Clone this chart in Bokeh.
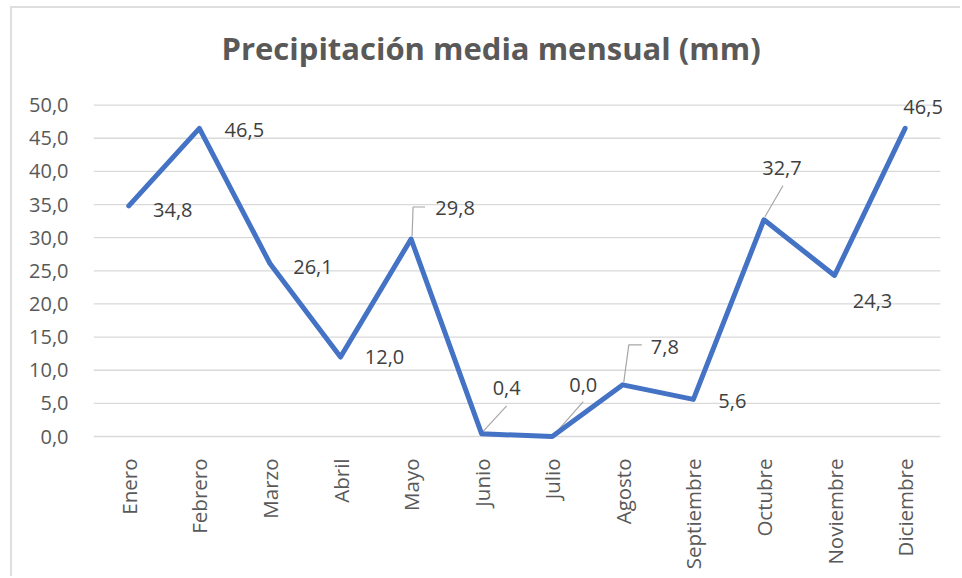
from bokeh.plotting import figure
from bokeh.models import ColumnDataSource, FixedTicker, Range1d, Title
from bokeh.core.properties import value
from bokeh.embed import file_html
from bokeh.resources import INLINE
from math import pi

# ---- data ----
months = ["Enero", "Febrero", "Marzo", "Abril", "Mayo", "Junio", "Julio",
          "Agosto", "Septiembre", "Octubre", "Noviembre", "Diciembre"]
precip = [34.8, 46.5, 26.1, 12.0, 29.8, 0.4, 0.0, 7.8, 5.6, 32.7, 24.3, 46.5]
y_ticks = [0, 5, 10, 15, 20, 25, 30, 35, 40, 45, 50]
y_tick_labels = ["0,0", "5,0", "10,0", "15,0", "20,0", "25,0", "30,0",
                 "35,0", "40,0", "45,0", "50,0"]
title_text = "Precipitación media mensual (mm)"

# ---- style: data-label offsets in screen pixels ----
label_dx = [44, 45, 43, 44, 44, 25, 31, 42, 39, 18, 38, 18]
label_dy = [4, 2, 3, 0, -31, -46, -52, -38, 2, -52, 26, -21]
leader_paths = {
    4: [(1, -3), (2, -32), (14, -32)],
    5: [(1, -2), (25, -28)],
    6: [(2, -2), (31, -35)],
    7: [(1, -3), (6, -40), (19, -40)],
    9: [(1, -3), (19, -34)],
}

W, H = 950, 570
ML, MR, MT, MB = 81, 8, 88, 138
X0, X1 = -0.5, 11.7
Y0, Y1 = -0.6, 51.3
px_x = (W - ML - MR) / (X1 - X0)
px_y = (H - MT - MB) / (Y1 - Y0)

TXT = "#595959"
FONT = "Open Sans"

p = figure(width=W, height=H, output_backend="svg", toolbar_location=None,
           title=None,
           x_range=Range1d(X0, X1), y_range=Range1d(Y0, Y1),
           min_border_left=ML, min_border_right=MR,
           min_border_top=MT, min_border_bottom=MB)
p.outline_line_color = None
p.styles = {"margin-left": "10px", "margin-top": "6px",
            "border-left": "2px solid #dedede", "border-top": "2px solid #dedede"}

xs = list(range(len(months)))

# grid (drawn across the category span only)
p.xgrid.grid_line_color = None
p.ygrid.grid_line_color = None
p.segment(x0=[xs[0] - 0.5] * len(y_ticks), x1=[xs[-1] + 0.5] * len(y_ticks),
          y0=y_ticks, y1=y_ticks, line_color="#d9d9d9", line_width=1.3)

# y axis
p.yaxis.ticker = FixedTicker(ticks=y_ticks)
p.yaxis.major_label_overrides = {t: l for t, l in zip(y_ticks, y_tick_labels)}
p.yaxis.axis_line_color = None
p.yaxis.major_tick_line_color = None
p.yaxis.minor_tick_line_color = None
p.yaxis.major_label_text_font = FONT
p.yaxis.major_label_text_font_size = "20px"
p.yaxis.major_label_text_color = TXT
p.yaxis.major_label_standoff = 19

# x axis
p.xaxis.ticker = FixedTicker(ticks=xs)
p.xaxis.major_label_overrides = {i: m for i, m in enumerate(months)}
p.xaxis.axis_line_color = None
p.xaxis.major_tick_line_color = None
p.xaxis.minor_tick_line_color = None
p.xaxis.major_label_orientation = pi / 2
p.xaxis.major_label_text_font = FONT
p.xaxis.major_label_text_font_size = "20.5px"
p.xaxis.major_label_text_color = TXT
p.xaxis.major_label_standoff = 12

# leader lines (pixel offsets converted into data units)
lx, ly = [], []
for i, path in leader_paths.items():
    lx.append([xs[i] + dx / px_x for dx, dy in path])
    ly.append([precip[i] - dy / px_y for dx, dy in path])
p.multi_line(lx, ly, line_color="#a6a6a6", line_width=1.2)

# series line
p.line(xs, precip, line_color="#4472C4", line_width=5,
       line_join="round", line_cap="round")

# data labels
src = ColumnDataSource(dict(
    x=xs, y=precip,
    label=[f"{v:.1f}".replace(".", ",") for v in precip],
    dx=label_dx, dy=label_dy))
p.text(x="x", y="y", text="label", x_offset="dx", y_offset="dy", source=src,
       text_align="center", text_baseline="middle",
       text_font=value(FONT), text_font_size="20px", text_color="#404040")

# title (a blank spacer title keeps it away from the plot area)
p.add_layout(Title(text=" ", text_font_size="12px", standoff=6), "above")
p.add_layout(Title(text=title_text, align="left", offset=128,
                   vertical_align="middle", text_font=FONT,
                   text_font_size="31px", text_font_style="bold",
                   text_color=TXT), "above")

open("out.html", "w").write(file_html(p, INLINE))
